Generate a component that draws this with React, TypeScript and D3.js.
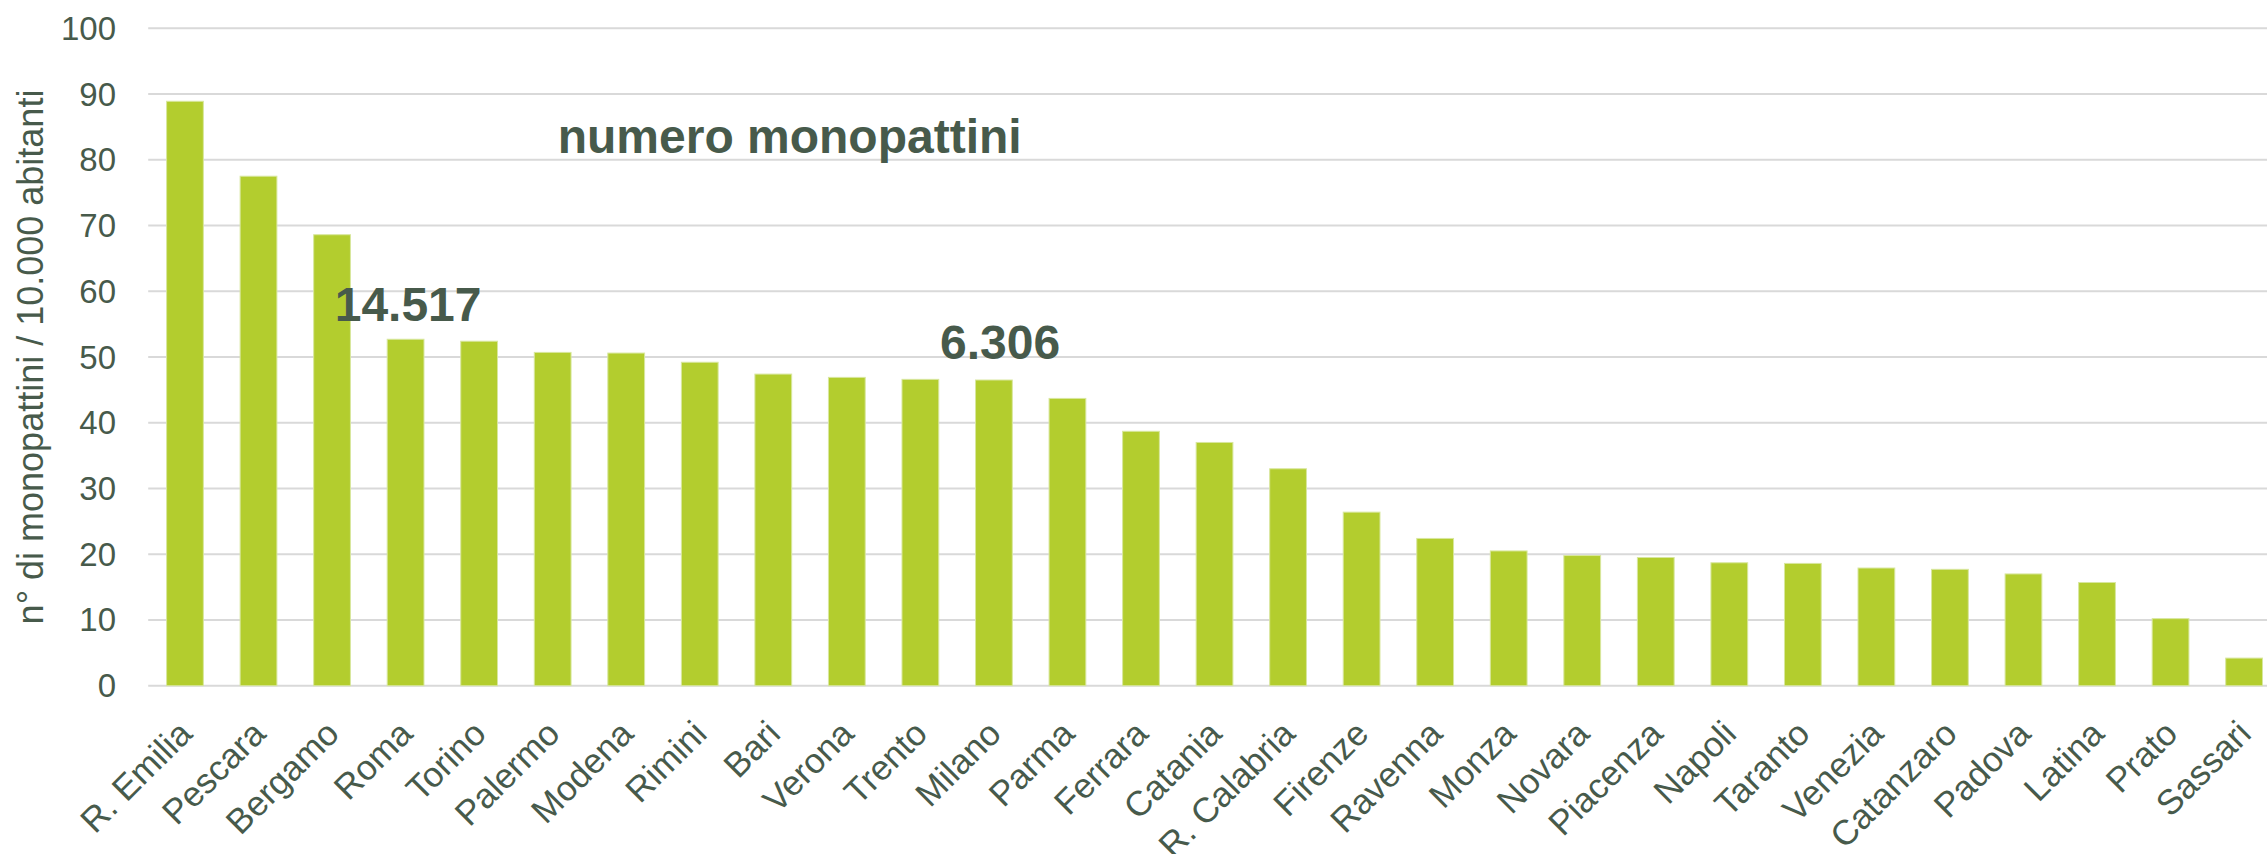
import React from "react";
import * as d3 from "d3";

const cities: string[] = [
  "R. Emilia", "Pescara", "Bergamo", "Roma", "Torino", "Palermo", "Modena", "Rimini",
  "Bari", "Verona", "Trento", "Milano", "Parma", "Ferrara", "Catania", "R. Calabria",
  "Firenze", "Ravenna", "Monza", "Novara", "Piacenza", "Napoli", "Taranto", "Venezia",
  "Catanzaro", "Padova", "Latina", "Prato", "Sassari",
];

const perTenThousand: number[] = [
  88.9, 77.5, 68.6, 52.7, 52.4, 50.7, 50.6, 49.2,
  47.4, 46.9, 46.6, 46.5, 43.7, 38.7, 37.0, 33.0,
  26.4, 22.4, 20.5, 19.8, 19.5, 18.7, 18.6, 17.9,
  17.7, 17.0, 15.7, 10.2, 4.2,
];

const yTicks: number[] = [0, 10, 20, 30, 40, 50, 60, 70, 80, 90, 100];

const yAxisTitle = "n° di monopattini / 10.000 abitanti";
const annotationTitle = "numero monopattini";
const annotationRoma = "14.517";
const annotationMilano = "6.306";

const W = 2267;
const H = 854;
const TEXT = "#475a4b";
const BAR = "#b3cd2e";
const GRID = "#d9d9d9";
const FONT = "'Liberation Sans', Arial, Helvetica, sans-serif";

export default function App() {
  const left = 148.2;
  const step = 73.54;
  const x = d3
    .scaleBand<string>()
    .domain(cities)
    .range([left, left + step * cities.length])
    .paddingInner(0.5)
    .paddingOuter(0.25);
  const y = d3.scaleLinear().domain([0, 100]).range([685.7, 28.3]);

  return (
    <svg
      width={W}
      height={H}
      style={{ position: "absolute", left: 0, top: 0, background: "#fff" }}
      fontFamily={FONT}
    >
      <rect x={0} y={0} width={W} height={H} fill="#fff" />
      {yTicks.map((t) => (
        <g key={t}>
          <line x1={left} x2={W} y1={y(t)} y2={y(t)} stroke={GRID} strokeWidth={2} />
          <text
            x={116}
            y={y(t)}
            textAnchor="end"
            dominantBaseline="central"
            fontSize={33}
            fill={TEXT}
          >
            {t}
          </text>
        </g>
      ))}
      <text
        transform={`translate(43, ${(y(0) + y(100)) / 2}) rotate(-90)`}
        textAnchor="middle"
        fontSize={36}
        fill={TEXT}
      >
        {yAxisTitle}
      </text>
      {cities.map((c, i) => (
        <rect
          key={c}
          x={x(c)!}
          y={y(perTenThousand[i])}
          width={x.bandwidth()}
          height={y(0) - y(perTenThousand[i])}
          fill={BAR}
          stroke="#d8e79e"
          strokeWidth={1}
        />
      ))}
      {cities.map((c) => {
        const cx = x(c)! + x.bandwidth() / 2;
        return (
          <text
            key={c}
            transform={`translate(${cx + 9}, ${y(0) + 50}) rotate(-45)`}
            textAnchor="end"
            fontSize={35}
            fill={TEXT}
          >
            {c}
          </text>
        );
      })}
      <text x={557.7} y={152.7} fontSize={48} fontWeight="bold" fill={TEXT}>
        {annotationTitle}
      </text>
      <text x={334.7} y={320.5} fontSize={48} fontWeight="bold" fill={TEXT}>
        {annotationRoma}
      </text>
      <text x={940} y={359} fontSize={48} fontWeight="bold" fill={TEXT}>
        {annotationMilano}
      </text>
    </svg>
  );
}
